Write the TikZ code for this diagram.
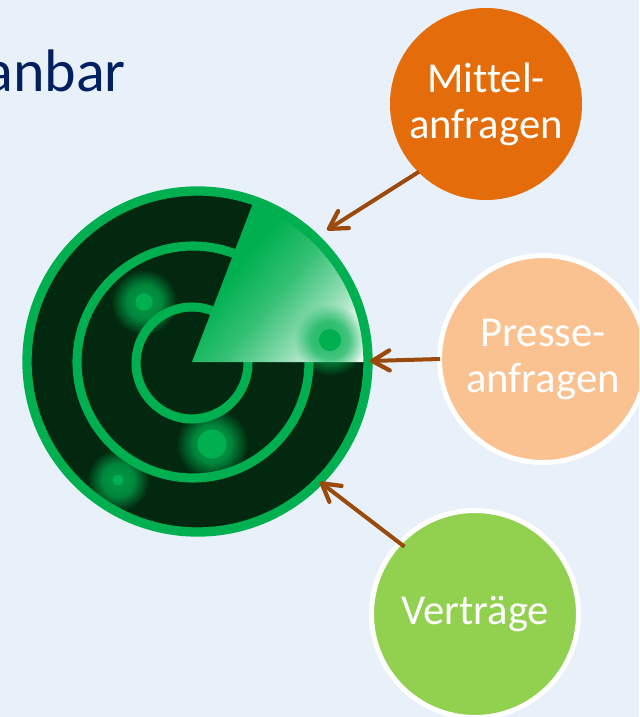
\documentclass[tikz,border=0pt]{standalone}
\usepackage{fontspec}
\setmainfont[Ligatures=NoCommon]{Carlito}
\usetikzlibrary{fadings,arrows.meta}
\definecolor{bg}{HTML}{E8F0FA}
\definecolor{radar}{HTML}{00B050}
\definecolor{dark}{HTML}{02280F}
\definecolor{brown}{HTML}{9C4A0C}
\definecolor{titleblue}{HTML}{002060}
\definecolor{orangeA}{HTML}{E46C0A}
\definecolor{peach}{HTML}{FBC291}
\definecolor{leaf}{HTML}{92D050}
\pgfdeclarehorizontalshading{sweep}{100bp}{
 color(0bp)=(radar); color(38bp)=(radar); color(52bp)=(radar!80!white); color(62bp)=(radar!55!white); color(69bp)=(radar!35!white); color(75bp)=(radar!12!white); color(100bp)=(white)}
\pgfdeclareradialshading{glowsh}{\pgfpointorigin}{color(0bp)=(black!15); color(13bp)=(black!30); color(25bp)=(black); color(50bp)=(black)}
\pgfdeclarefading{glowfade}{\pgfuseshading{glowsh}}
\tikzset{
 px/.style={x=0.75pt,y=-0.75pt},
 bubble/.style={circle,minimum size=#1*0.75pt,inner sep=0pt,align=center,text=white,font=\fontsize{32pt}{34.5pt}\selectfont},
 link/.style={draw=brown,line width=3pt,-{Straight Barb[length=13pt,width=15pt,line width=3.2pt,round]}},
 ring/.style={draw=radar,line width=6.8pt},
 glow/.style={fill=radar,path fading=glowfade},
 blip/.style={fill=radar}
}
\begin{document}
\begin{tikzpicture}[px]
\useasboundingbox (0,0) rectangle (639,717);
\fill[bg] (0,0) rectangle (639,717);
\begin{scope}
\clip (0,0) rectangle (639,717);
\node[anchor=base east,text=titleblue,font=\fontsize{45pt}{48pt}\selectfont,inner sep=0pt] (title) at (126,92) {anbar};
% radar
\fill[dark] (197.5,361.5) circle (171);
\draw[ring] (193,362) circle (116);
\draw[ring] (192,363) circle (56);
\begin{scope}
\clip (197.5,361.5) circle (171);
\fill[glow] (144,302) circle (33);
\fill[glow] (212,444) circle (36);
\fill[glow] (118,480) circle (31);
\end{scope}
\fill[blip] (144,302) circle (8.5);
\fill[blip] (212,444) circle (14.5);
\fill[blip] (118,480) circle (5.5);
% sweep
\path[shading=sweep,shading angle=-40] (192,362) -- (364,362) arc[start angle=0,end angle=-69,radius=172] -- cycle;
\begin{scope}
\clip (197.5,361.5) circle (170);
\fill[glow] (330,340) circle (36);
\end{scope}
\fill[blip] (330,340) circle (11);
\draw[draw=radar,line width=7pt] (197.5,361.5) circle (170.5);
% bubbles
\node[bubble=192,fill=orangeA] (m) at (486,104) {Mittel-\\anfragen};
\node[bubble=207,fill=peach,draw=white,line width=3.75pt] (p) at (543,359) {Presse-\\anfragen};
\node[bubble=207,fill=leaf,draw=white,line width=3.75pt] (v) at (475,614) {Verträge};
\coordinate (tm) at (327,230);
\coordinate (tp) at (370,361);
\coordinate (tv) at (320,482);
\draw[link] ([shift={(2,1)}]m.224) -- (tm);
\draw[link] ([shift={(3,0)}]p.180) -- (tp);
\draw[link] ([shift={(7,5)}]v.137) -- (tv);
\end{scope}
\end{tikzpicture}
\end{document}
